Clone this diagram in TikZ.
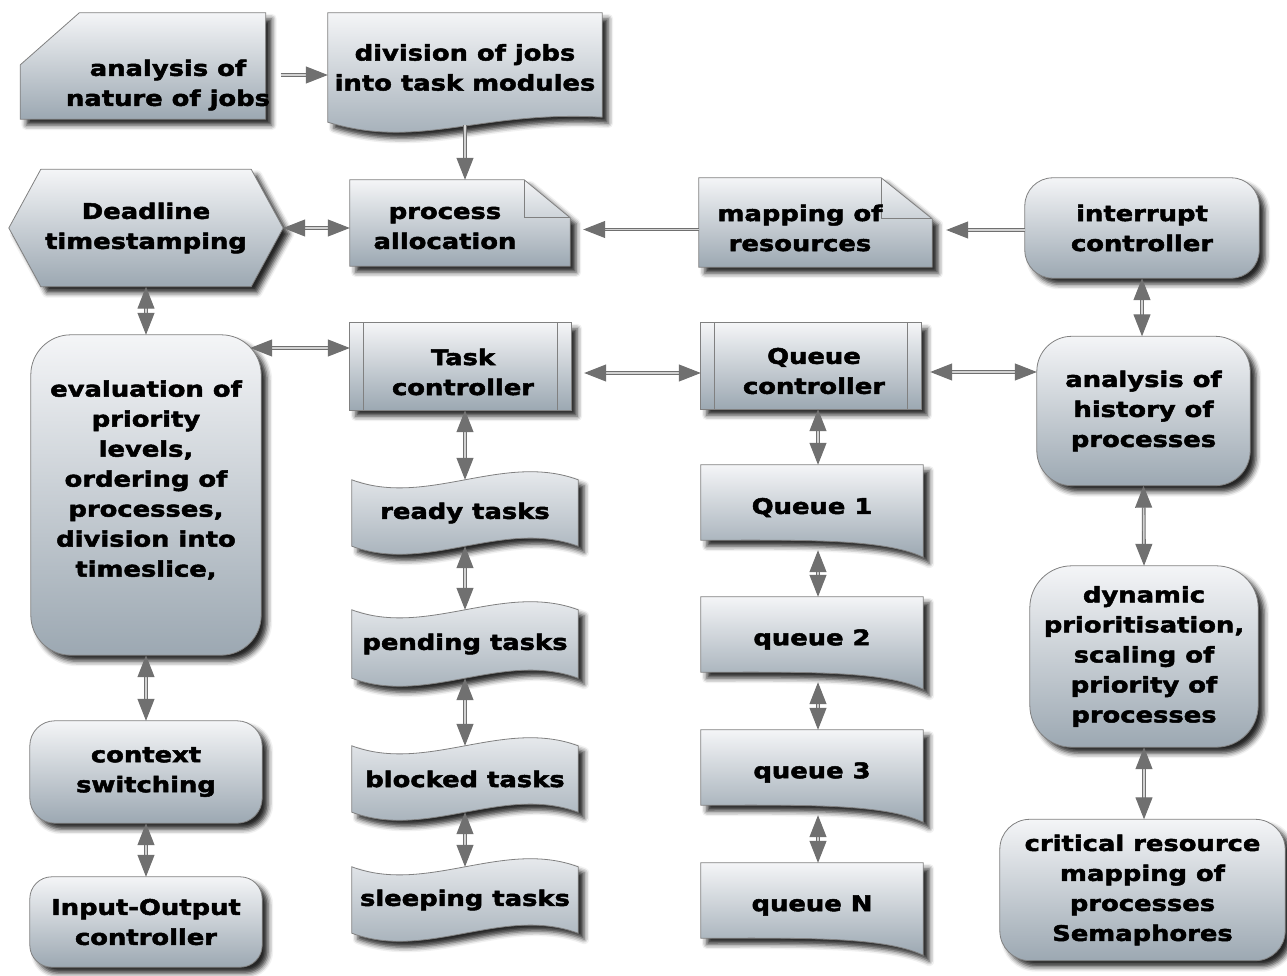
\documentclass[tikz,border=0pt]{standalone}
\usepackage{fontspec}
\setmainfont{DejaVu Sans}[FakeStretch=1.2, BoldFeatures={FakeBold=2.3}]
\usetikzlibrary{arrows.meta,shadows.blur}

\definecolor{boxtop}{HTML}{F4F5F7}
\definecolor{boxbot}{HTML}{9CA8B2}
\definecolor{boxline}{HTML}{808080}
\definecolor{linkgray}{HTML}{707070}
\definecolor{linklite}{HTML}{D2D2D2}

\pgfdeclarelayer{back}
\pgfsetlayers{back,main}

\tikzset{
  lbl/.style={font=\bfseries\fontsize{21.5}{30}\selectfont, align=center, inner sep=0pt},
  shapebox/.style={draw=boxline, line width=0.8pt, top color=boxtop, bottom color=boxbot,
    blur shadow={shadow xshift=6pt, shadow yshift=-6pt, shadow blur radius=5pt, shadow opacity=85}},
  link/.style={draw=linkgray, double=linklite, double distance=1.6pt, line width=1.1pt}
}

\begin{document}
\begin{tikzpicture}[x=1pt, y=-1pt, >={Triangle[length=22pt,width=17pt]}]
  \useasboundingbox (0,0) rectangle (1287,976);

  % top row
  \node[lbl, minimum width=245pt, minimum height=106pt] (jobs) at (143,66) {};
  \node[lbl] (jobs-txt) at (168,85) {analysis of\\nature of jobs};
  \node[lbl, minimum width=274pt, minimum height=109pt] (divide) at (465,67.5) {division of jobs\\into task modules};

  % second row
  \node[lbl, minimum width=274pt, minimum height=117pt] (deadline) at (146,228) {Deadline\\timestamping};
  \node[lbl, minimum width=220pt, minimum height=86pt] (alloc) at (460,223) {};
  \node[lbl] (alloc-txt) at (445,228) {process\\allocation};
  \node[lbl, minimum width=233pt, minimum height=89pt] (resmap) at (815.5,222.5) {};
  \node[lbl] (resmap-txt) at (800,228) {mapping of\\resources};
  \node[lbl, minimum width=234pt, minimum height=100pt] (intr) at (1142,228) {interrupt\\controller};

  % controllers
  \node[lbl, minimum width=230pt, minimum height=320pt] (evalp) at (146,495) {};
  \node[lbl] (evalp-txt) at (146,480) {evaluation of\\priority\\levels,\\ordering of\\processes,\\division into\\timeslice,};
  \node[lbl, minimum width=221pt, minimum height=87pt] (taskc) at (460.5,366.5) {};
  \node[lbl] (taskc-txt) at (463,372) {Task\\controller};
  \node[lbl, minimum width=220pt, minimum height=86pt] (queuec) at (811,366) {};
  \node[lbl] (queuec-txt) at (814,371) {Queue\\controller};
  \node[lbl, minimum width=213pt, minimum height=149pt] (hist) at (1143.5,411) {analysis of\\history of\\processes};

  % task states
  \node[lbl, minimum width=226pt, minimum height=66pt] (ready) at (465,513) {ready tasks};
  \node[lbl, minimum width=226pt, minimum height=68pt] (pending) at (465,644) {pending tasks};
  \node[lbl, minimum width=226pt, minimum height=66pt] (blocked) at (465,779) {blocked tasks};
  \node[lbl, minimum width=226pt, minimum height=66pt] (sleeping) at (465,900) {sleeping tasks};

  % queues
  \node[lbl, minimum width=222pt, minimum height=85pt] (q1) at (812,507.5) {Queue 1};
  \node[lbl, minimum width=222pt, minimum height=85pt] (q2) at (812,639.5) {queue 2};
  \node[lbl, minimum width=222pt, minimum height=85pt] (q3) at (812,772.5) {queue 3};
  \node[lbl, minimum width=222pt, minimum height=85pt] (qN) at (812,905.5) {queue N};

  % left and right columns
  \node[lbl, minimum width=232pt, minimum height=102pt] (ctx) at (146,772) {context\\switching};
  \node[lbl, minimum width=232pt, minimum height=90pt] (io) at (146,922) {Input-Output\\controller};
  \node[lbl, minimum width=228pt, minimum height=181pt] (dyn) at (1144,656.5) {dynamic\\prioritisation,\\scaling of\\priority of\\processes};
  \node[lbl, minimum width=285pt, minimum height=141pt] (crit) at (1142.5,890) {critical resource\\mapping of\\processes\\Semaphores};

  \begin{pgfonlayer}{back}
    % card
    \path[shapebox] (jobs.south west) -- ([yshift=-52pt]jobs.north west) -- ([xshift=59pt]jobs.north west)
      -- (jobs.north east) -- (jobs.south east) -- cycle;
    % document
    \path[shapebox] (divide.north west) -- (divide.north east) -- ([yshift=5pt]divide.south east)
      .. controls ([xshift=-122pt,yshift=12pt]divide.south east) and ([xshift=92pt,yshift=-28pt]divide.south west)
      .. (divide.south west) -- cycle;
    % hexagon
    \path[shapebox] (deadline.west) -- ([xshift=32pt]deadline.north west) -- ([xshift=-32pt]deadline.north east)
      -- (deadline.east) -- ([xshift=-32pt]deadline.south east) -- ([xshift=32pt]deadline.south west) -- cycle;
    % notes
    \path[shapebox] (alloc.north west) -- ([xshift=-46pt]alloc.north east) -- ([yshift=-38pt]alloc.north east)
      -- (alloc.south east) -- (alloc.south west) -- cycle;
    \draw[boxline, line width=0.8pt] ([xshift=-46pt]alloc.north east) -- ([xshift=-46pt,yshift=-38pt]alloc.north east)
      -- ([yshift=-38pt]alloc.north east);
    \path[shapebox] (resmap.north west) -- ([xshift=-51pt]resmap.north east) -- ([yshift=-41pt]resmap.north east)
      -- (resmap.south east) -- (resmap.south west) -- cycle;
    \draw[boxline, line width=0.8pt] ([xshift=-51pt]resmap.north east) -- ([xshift=-51pt,yshift=-41pt]resmap.north east)
      -- ([yshift=-41pt]resmap.north east);
    % rounded boxes
    \foreach \n/\r in {intr/28,evalp/40,hist/35,ctx/25,io/22,dyn/42,crit/30}
      \path[shapebox, rounded corners=\r pt] (\n.north west) rectangle (\n.south east);
    % predefined process
    \foreach \n in {taskc,queuec} {
      \path[shapebox] (\n.north west) rectangle (\n.south east);
      \draw[boxline, line width=0.8pt] ([xshift=14pt]\n.north west) -- ([xshift=14pt]\n.south west)
        ([xshift=-14pt]\n.north east) -- ([xshift=-14pt]\n.south east);
    }
    % tapes
    \foreach \n in {ready,pending,blocked,sleeping}
      \path[shapebox] (\n.north west)
        .. controls ([xshift=75pt,yshift=-28pt]\n.north west) and ([xshift=-75pt,yshift=28pt]\n.north east) .. (\n.north east)
        -- (\n.south east)
        .. controls ([xshift=-75pt,yshift=28pt]\n.south east) and ([xshift=75pt,yshift=-28pt]\n.south west) .. (\n.south west)
        -- cycle;
    % queue documents
    \foreach \n in {q1,q2,q3,qN}
      \path[shapebox] (\n.north west) -- (\n.north east) -- ([yshift=-7pt]\n.south east)
        .. controls ([xshift=-40pt,yshift=12pt]\n.south east) and ([xshift=100pt,yshift=10pt]\n.south west)
        .. ([yshift=10pt]\n.south west) -- cycle;
  \end{pgfonlayer}

  % connectors
  \draw[link,->] ([xshift=15pt,yshift=-9pt]jobs.east) -- ([yshift=-7.5pt]divide.west);
  \draw[link,->] ([yshift=-3pt]divide.south) -- (divide.south |- alloc.north);
  \draw[link,<->] (deadline.east) -- (deadline.east -| alloc.west);
  \draw[link,->] ([yshift=-7pt]resmap.west) -- ([xshift=13pt,yshift=-6.5pt]alloc.east);
  \draw[link,->] ([yshift=-2pt]intr.west) -- ([xshift=14pt,yshift=-7.5pt]resmap.east);
  \draw[link,<->] (deadline.south) -- (evalp.north);
  \draw[link,<->] ([xshift=-11pt,yshift=147pt]evalp.east) -- ([yshift=18.5pt]taskc.west);
  \draw[link,<->] ([xshift=13pt,yshift=-6.5pt]taskc.east) -- ([yshift=-7pt]queuec.west);
  \draw[link,<->] ([xshift=9pt,yshift=-6pt]queuec.east) -- ([yshift=39pt]hist.west);
  \draw[link,<->] (intr.south) -- (intr.south |- hist.north);
  \draw[link,<->] (evalp.south) -- (ctx.north);
  \draw[link,<->] (ctx.south) -- (io.north);
  \draw[link,<->] (ready.north |- taskc.south) -- (ready.north);
  \draw[link,<->] (ready.south) -- (pending.north);
  \draw[link,<->] (pending.south) -- (blocked.north);
  \draw[link,<->] (blocked.south) -- (sleeping.north);
  \draw[link,<->] ([xshift=7pt]queuec.south) -- ([xshift=6pt]q1.north);
  \draw[link,<->] ([xshift=6pt]q1.south) -- ([xshift=6pt]q2.north);
  \draw[link,<->] ([xshift=6pt]q2.south) -- ([xshift=6pt]q3.north);
  \draw[link,<->] ([xshift=6pt]q3.south) -- ([xshift=6pt]qN.north);
  \draw[link,<->] (hist.south) -- (dyn.north);
  \draw[link,<->] (dyn.south) -- (dyn.south |- crit.north);

\end{tikzpicture}
\end{document}
